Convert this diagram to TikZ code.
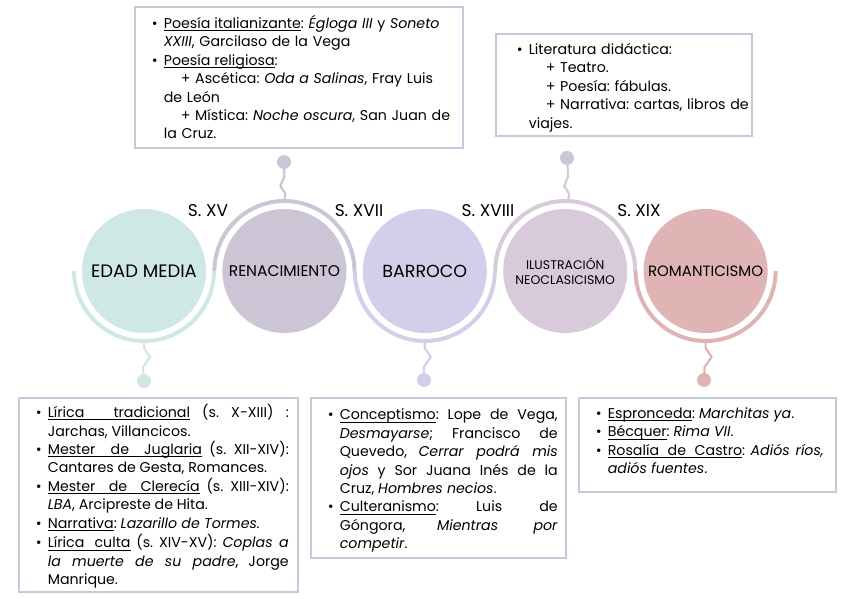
\documentclass[tikz,border=0pt]{standalone}
\usepackage{fontspec}
\setmainfont{Poppins}
\usetikzlibrary{positioning,calc}
\definecolor{cmedia}{HTML}{CFE8E6}
\definecolor{crenac}{HTML}{CBC5D6}
\definecolor{cbarroco}{HTML}{D3CEEA}
\definecolor{cilus}{HTML}{D8CADB}
\definecolor{cromant}{HTML}{E0B4B4}
\definecolor{boxline}{HTML}{CBC7DB}
\newlength\leftpad
\newcommand{\bitem}{\par\noindent\hangindent=\dimexpr\leftpad+12pt\relax\hangafter=1\hspace*{\leftpad}\makebox[12pt][l]{\strut\textbullet}}
\newcommand{\plusitem}{\par\noindent\hangindent=\dimexpr\leftpad+12pt\relax\hangafter=0\hspace*{17pt}}
% underlined word and underlined (stretchable) space
\newsavebox\ulbox
\newcommand{\ulw}[1]{\sbox\ulbox{#1}\rlap{\vrule height -1.7pt depth 2.4pt width \wd\ulbox}\usebox\ulbox}
\newcommand{\ulsp}{\leaders\hrule height -1.7pt depth 2.4pt\hskip 0.28em plus 0.4em minus 0.08em\relax}
\hbadness=10000
\frenchspacing

\begin{document}
\begin{tikzpicture}[
  x=1pt, y=1pt,
  era/.style={circle, minimum size=124pt, inner sep=0pt, align=center},
  ring/.style={line width=4pt},
  stem/.style={line width=2.2pt, line join=round},
  dot/.style={circle, minimum size=14pt, inner sep=0pt},
  siglo/.style={font=\fontsize{17}{20}\selectfont},
  infobox/.style={draw=boxline, line width=1.6pt, anchor=north west, inner ysep=0pt, inner xsep=8pt, font=\fontsize{14.2}{18.4}\selectfont},
]
  \useasboundingbox (0,0) rectangle (848,-599);

  % eras
  \node[era, fill=cmedia, font=\fontsize{18}{20}\selectfont] (media) at (144,-271) {EDAD MEDIA};
  \node[era, fill=crenac, right=16pt of media, font=\fontsize{15.5}{17}\selectfont] (renac) {RENACIMIENTO};
  \node[era, fill=cbarroco, right=16pt of renac, font=\fontsize{17.5}{20}\selectfont] (barroco) {BARROCO};
  \node[era, fill=cilus, right=16pt of barroco, font=\fontsize{12.5}{15}\selectfont] (ilus) {ILUSTRACIÓN\\NEOCLASICISMO};
  \node[era, fill=cromant, right=16pt of ilus, font=\fontsize{15}{17}\selectfont] (romant) {ROMANTICISMO};

  % wave
  \draw[ring, draw=cmedia] ($(media)+(-70,0)$) arc[start angle=180, end angle=360, radius=70];
  \draw[ring, draw=crenac] ($(renac)+(-70,0)$) arc[start angle=180, end angle=0, radius=70];
  \draw[ring, draw=cbarroco] ($(barroco)+(-70,0)$) arc[start angle=180, end angle=360, radius=70];
  \draw[ring, draw=cilus] ($(ilus)+(-70,0)$) arc[start angle=180, end angle=0, radius=70];
  \draw[ring, draw=cromant] ($(romant)+(-70,0)$) arc[start angle=180, end angle=360, radius=70];

  \node[siglo] (s15) at (208,-211) {S. XV};
  \node[siglo] (s17) at (359,-211) {S. XVII};
  \node[siglo] (s18) at (488,-211) {S. XVIII};
  \node[siglo] (s19) at (639,-211) {S. XIX};

  % stems
  \node[dot, fill=cmedia] (mediadot) at (144,-381) {};
  \node[dot, fill=crenac] (renacdot) at (284,-162) {};
  \node[dot, fill=cbarroco] (barrocodot) at (424,-380) {};
  \node[dot, fill=crenac] (ilusdot) at (567,-158) {};
  \node[dot, fill=cromant] (romantdot) at (704,-380) {};
  \draw[stem, draw=cmedia] ($(media)+(0,-70)$) -- ++(0,-7) -- ++(6,-9) -- ++(-7,-10) -- (mediadot);
  \draw[stem, draw=crenac] ($(renac)+(0,70)$) -- ++(1,7) -- ++(-5,8) -- ++(4,10) -- (renacdot);
  \draw[stem, draw=cbarroco] ($(barroco)+(0,-70)$) -- ++(0,-7) -- ++(6,-9) -- ++(-7,-10) -- (barrocodot);
  \draw[stem, draw=cilus] ($(ilus)+(3,70)$) -- ++(1,7) -- ++(-5,8) -- ++(4,10) -- (ilusdot);
  \draw[stem, draw=cromant] ($(romant)+(0,-70)$) -- ++(0,-7) -- ++(6,-9) -- ++(-7,-10) -- (romantdot);

  % boxes
  \node[infobox, text width=312pt, minimum height=141pt, align=left] (renacbox) at (134,-6) {%
    \setlength\leftpad{9pt}%
    \bitem \ulw{Poesía}\ulsp\ulw{italianizante}: \textit{Égloga III} y \textit{Soneto}\newline \textit{XXIII}, Garcilaso de la Vega
    \bitem \ulw{Poesía}\ulsp\ulw{religiosa}:
    \plusitem + Ascética: \textit{Oda a Salinas}, Fray Luis\newline de León
    \plusitem + Mística: \textit{Noche oscura}, San Juan de\newline la Cruz.\strut\par};
  \node[infobox, text width=244pt, inner xsep=6pt, minimum height=102pt, align=left] (ilusbox) at (495,-33) {%
    \setlength\leftpad{15pt}%
    \bitem Literatura didáctica:
    \plusitem + Teatro.
    \plusitem + Poesía: fábulas.
    \plusitem \mbox{+ Narrativa: cartas, libros de}\newline viajes.\strut\par};
  \node[infobox, text width=261pt, inner xsep=9pt, minimum height=194pt, align=justify] (mediabox) at (18,-397) {%
    \setlength\leftpad{8pt}%
    \bitem \ulw{Lírica}\ulsp\ulw{tradicional} (s. X-XIII) :\linebreak Jarchas, Villancicos.
    \bitem \ulw{Mester}\ulsp\ulw{de}\ulsp\ulw{Juglaria} (s. XII-XIV):\linebreak Cantares de Gesta, Romances.
    \bitem \ulw{Mester}\ulsp\ulw{de}\ulsp\ulw{Clerecía} (s. XIII-XIV):\linebreak \textit{LBA}, Arcipreste de Hita.
    \bitem \ulw{Narrativa}: \textit{Lazarillo de Tormes.}
    \bitem \ulw{Lírica}\ulsp\ulw{culta} (s. XIV-XV): \textit{Coplas a}\linebreak \textit{la muerte de su padre}, Jorge\linebreak Manrique.\strut\par};
  \node[infobox, text width=239pt, minimum height=160pt, align=justify] (barrocobox) at (310,-397) {%
    \setlength\leftpad{9pt}%
    \bitem \ulw{Conceptismo}: Lope de Vega,\linebreak \textit{Desmayarse}; Francisco de\linebreak Quevedo, \textit{Cerrar podrá mis}\linebreak \textit{ojos} y Sor Juana Inés de la\linebreak Cruz, \textit{Hombres necios}.
    \bitem \ulw{Culteranismo}: Luis de\linebreak Góngora, \textit{Mientras por}\linebreak \textit{competir}.\strut\par};
  \node[infobox, text width=233pt, inner xsep=12pt, minimum height=94pt, align=justify] (romantbox) at (578,-397) {%
    \setlength\leftpad{5pt}%
    \bitem \ulw{Espronceda}: \textit{Marchitas ya}.
    \bitem \ulw{Bécquer}: \textit{Rima VII}.
    \bitem \ulw{Rosalía}\ulsp\ulw{de}\ulsp\ulw{Castro}: \textit{Adiós ríos,}\linebreak \textit{adiós fuentes}.\rule[-16pt]{0pt}{1pt}\par};
\end{tikzpicture}
\end{document}
